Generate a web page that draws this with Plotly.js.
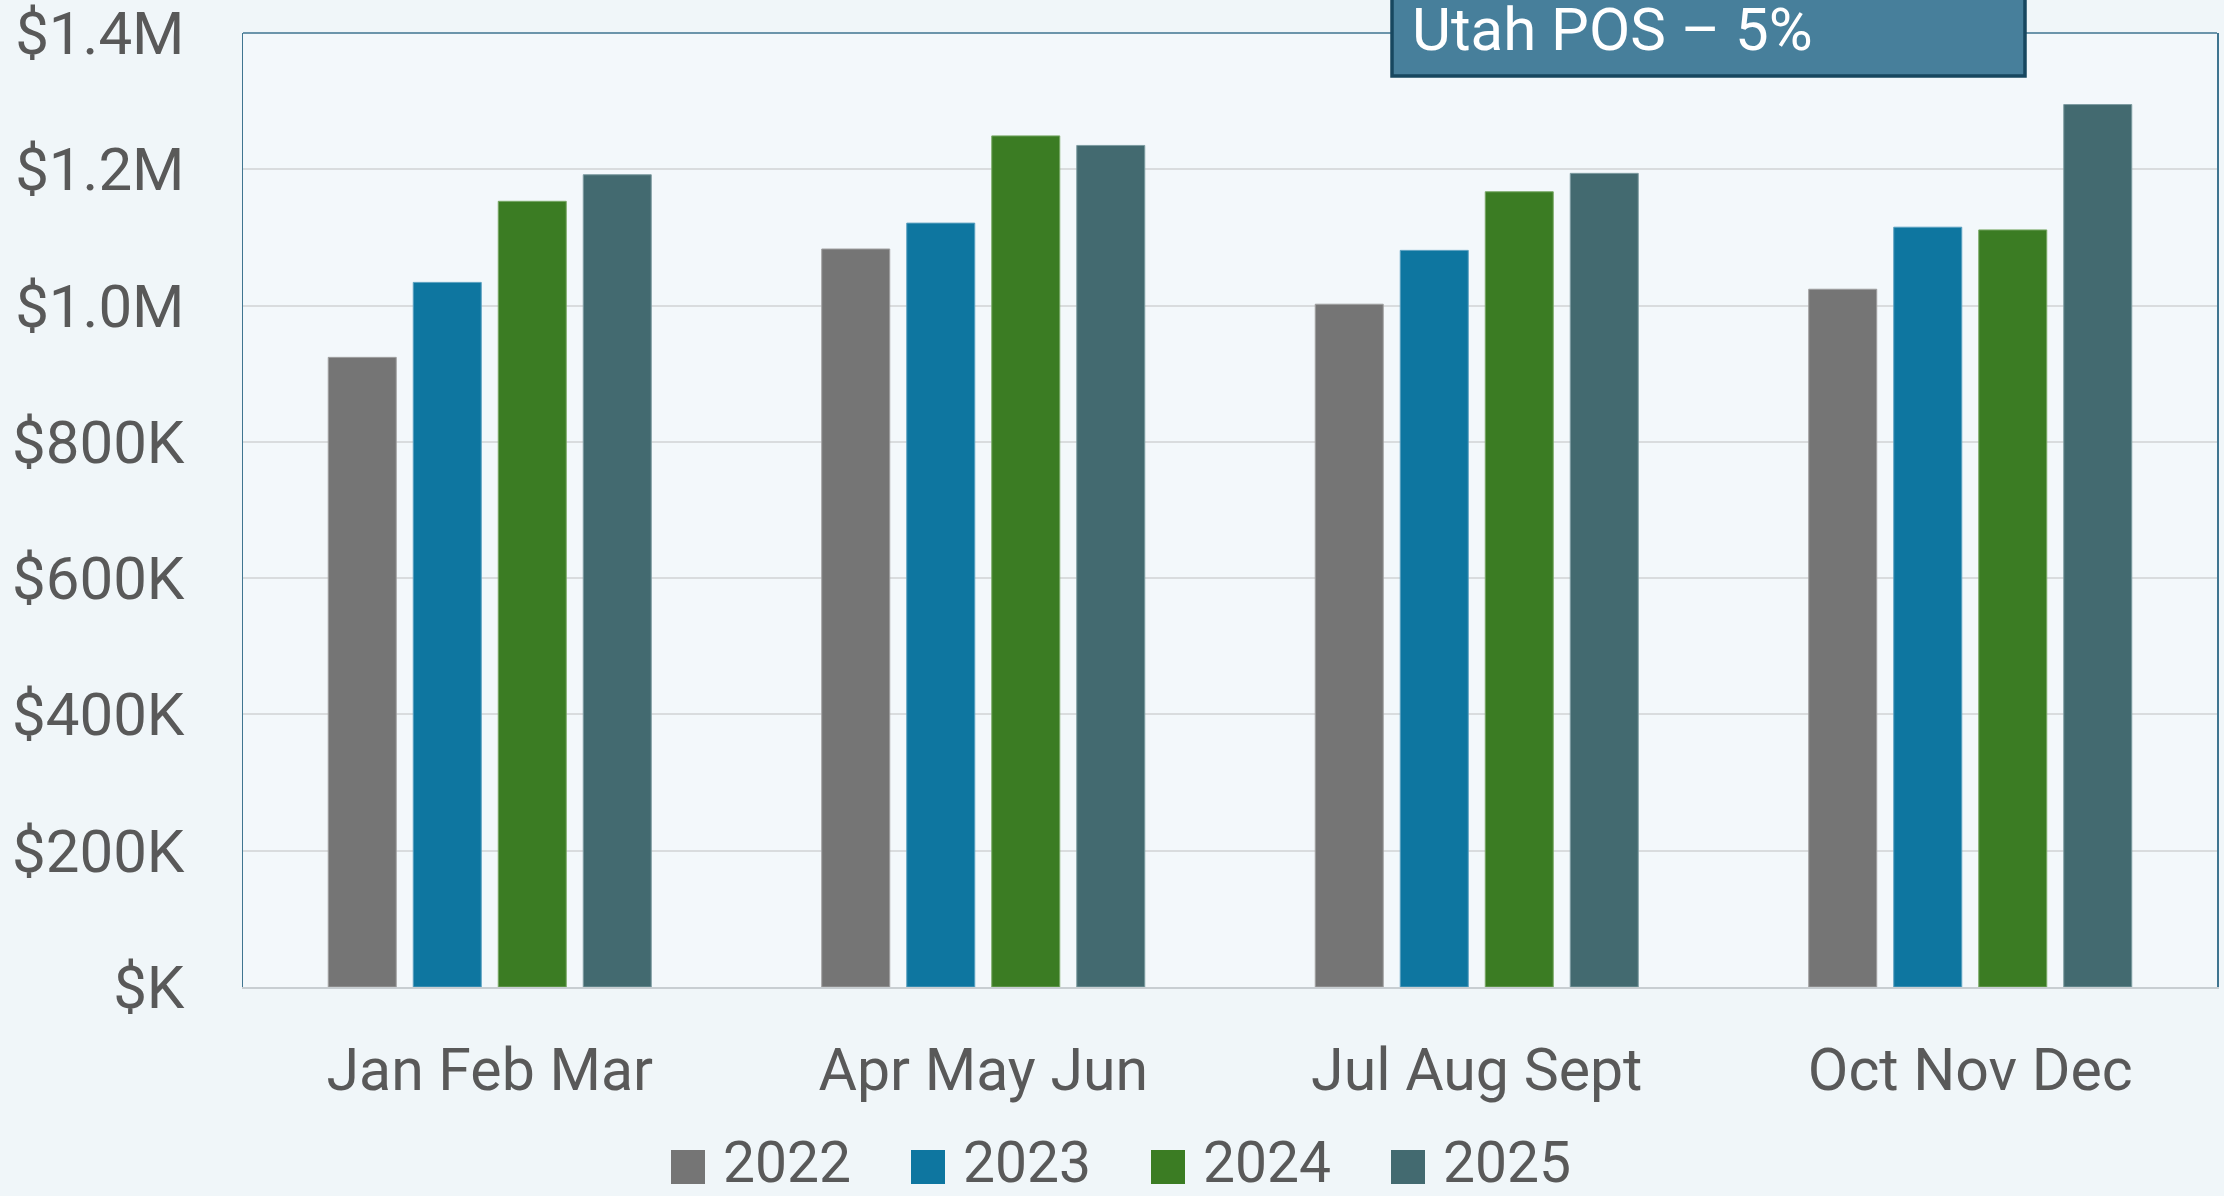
<!DOCTYPE html>
<html>
<head>
<meta charset="utf-8">
<script src="https://cdn.plot.ly/plotly-3.0.1.min.js"></script>
<style>
  html, body { margin: 0; padding: 0; background: #f0f6f9; }
  #chart { width: 2224px; height: 1196px; }
</style>
</head>
<body>
<div id="chart"></div>
<script>
// ---- data ----
const categories = ['Jan Feb Mar', 'Apr May Jun', 'Jul Aug Sept', 'Oct Nov Dec'];
const years = ['2022', '2023', '2024', '2025'];
const sales2022 = [924000, 1083000, 1002000, 1024000];
const sales2023 = [1034000, 1121000, 1081000, 1115000];
const sales2024 = [1153000, 1249000, 1167000, 1111000];
const sales2025 = [1192000, 1235000, 1194000, 1295000];
const tickValues = [0, 200000, 400000, 600000, 800000, 1000000, 1200000, 1400000];
const tickLabels = ['$K', '$200K', '$400K', '$600K', '$800K', '$1.0M', '$1.2M', '$1.4M'];
const titleText = 'Utah POS \u2013 5%';

// ---- styles ----
const seriesValues = [sales2022, sales2023, sales2024, sales2025];
const colors = ['#757575', '#0e76a0', '#3b7c23', '#436a70'];
const outline = ['#a0a0a0', '#5aa0c0', '#79a866', '#7d9ca1'];
const FONT = 'Roboto, "Noto Sans", Arial, sans-serif';
const TEXT = '#595959';

const W = 2224, H = 1196;
const M = { l: 243, r: 7, t: 33, b: 209 };
const PW = W - M.l - M.r, PH = H - M.t - M.b;
const px = x => (x - M.l) / PW;
const py = y => (H - M.b - y) / PH;

const traces = years.map((yr, i) => ({
  type: 'bar',
  name: yr,
  x: categories,
  y: seriesValues[i],
  marker: { color: colors[i], line: { color: outline[i], width: 1 } },
  hoverinfo: 'x+y+name'
}));

// custom legend (large squares) built from the series names/colours
const shapes = [];
const annotations = [];
const legStart = 671, legStep = 240, sq = 34, legCY = 1166;
years.forEach((yr, i) => {
  const x0 = legStart + i * legStep;
  shapes.push({
    type: 'rect', xref: 'paper', yref: 'paper', layer: 'above',
    x0: px(x0), x1: px(x0 + sq), y0: py(legCY + sq / 2 + 1), y1: py(legCY - sq / 2 + 1),
    fillcolor: colors[i], line: { width: 0 }
  });
  annotations.push({
    xref: 'paper', yref: 'paper', x: px(x0 + sq + 16), y: py(legCY - 4),
    xanchor: 'left', yanchor: 'middle', showarrow: false,
    text: yr, font: { family: FONT, size: 57, color: TEXT }
  });
});

// top border of plot area
shapes.push({
  type: 'line', xref: 'paper', yref: 'paper', layer: 'above',
  x0: 0, x1: 1, y0: 1, y1: 1, line: { color: '#3f7590', width: 1.5 }
});

// title box
shapes.push({
  type: 'rect', xref: 'paper', yref: 'paper', layer: 'above',
  x0: px(1392), x1: px(2025), y0: py(76), y1: py(-20),
  fillcolor: '#477f9b', line: { color: '#17475f', width: 3.5 }
});
annotations.push({
  xref: 'paper', yref: 'paper', x: px(1410), y: py(30),
  xanchor: 'left', yanchor: 'middle', showarrow: false,
  text: titleText, font: { family: FONT, size: 60, color: '#ffffff' }
});

const layout = {
  width: W, height: H,
  margin: { l: M.l, r: M.r, t: M.t, b: M.b, pad: 0 },
  paper_bgcolor: '#f0f6f9',
  plot_bgcolor: '#f3f8fb',
  font: { family: FONT, color: TEXT },
  showlegend: false,
  barmode: 'group',
  bargap: 0.311,
  bargroupgap: 0.2,
  xaxis: {
    type: 'category',
    tickfont: { family: FONT, size: 59, color: TEXT },
    showline: true, linecolor: '#c8ced2', linewidth: 2,
    ticks: '', showgrid: false, zeroline: false,
    ticklabelstandoff: 30
  },
  yaxis: {
    range: [0, 1400000],
    tickmode: 'array', tickvals: tickValues, ticktext: tickLabels,
    tickfont: { family: FONT, size: 60, color: TEXT },
    ticklabeloverflow: 'allow',
    showgrid: true, gridcolor: '#d9dcde', gridwidth: 2,
    zeroline: false,
    showline: true, linecolor: '#3f7590', linewidth: 1.5, mirror: true,
    ticks: '', ticklabelstandoff: 45
  },
  shapes: shapes,
  annotations: annotations
};

Plotly.newPlot('chart', traces, layout, { displayModeBar: false, staticPlot: true });
</script>
</body>
</html>
